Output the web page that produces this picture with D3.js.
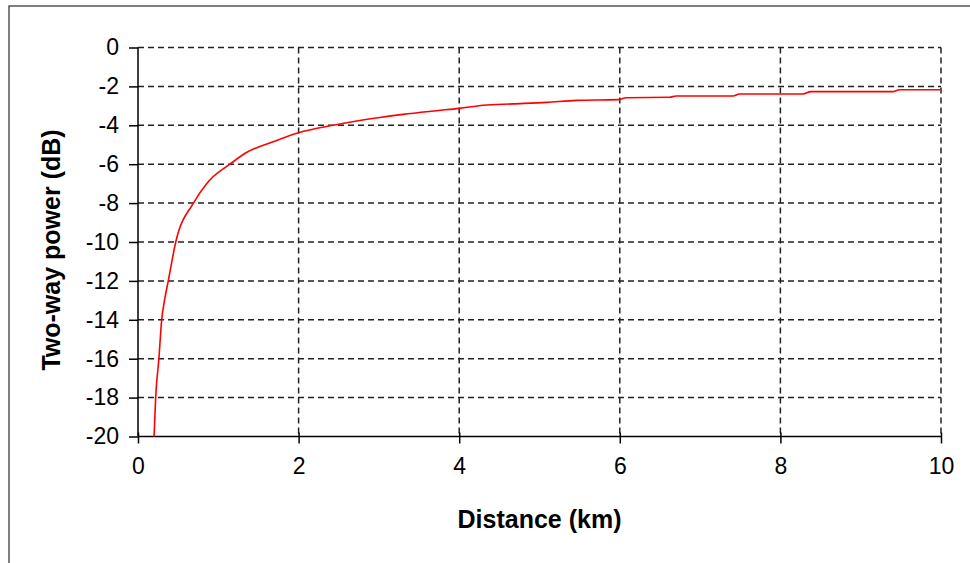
<!DOCTYPE html>
<html>
<head>
    <meta charset="utf-8" />
    <title>Two-way power vs distance</title>
    <style>
        body { margin: 0; background: #fff; }
        #power_chart { width: 970px; height: 563px; }
        text { font-family: "Liberation Sans", Arial, sans-serif; fill: #000; }
    </style>
</head>
<body>
    <div id="power_chart"></div>
    <script src="https://cdnjs.cloudflare.com/ajax/libs/d3/7.8.5/d3.min.js"></script>
    <script>
        // values
        var distanceKm = [0.2, 0.22, 0.26, 0.295, 0.33, 0.377, 0.47, 0.69, 0.855, 0.91, 1.145, 1.35, 1.68, 2.0, 2.43, 3.01, 3.3, 3.72, 4.0, 4.3, 4.67, 5.09, 5.46, 5.98, 6.08, 6.62, 6.7, 7.41, 7.49, 8.28, 8.38, 9.4, 9.48, 10];
        var powerDb = [-20, -18, -16, -14, -13, -12, -10, -8, -7, -6.75, -6, -5.4, -4.85, -4.38, -4.0, -3.6, -3.44, -3.25, -3.13, -2.97, -2.9, -2.82, -2.72, -2.68, -2.58, -2.56, -2.49, -2.49, -2.39, -2.39, -2.27, -2.27, -2.17, -2.17];
        var xTicks = [0, 2, 4, 6, 8, 10];
        var yTicks = [0, -2, -4, -6, -8, -10, -12, -14, -16, -18, -20];

        var width = 970, height = 563;
        var margin = { left: 138, right: 29, top: 47.5, bottom: 126.5 };

        var svg = d3.select("#power_chart")
            .append("svg")
            .attr("width", width)
            .attr("height", height);

        // outer frame (only left and top edges show)
        svg.append("path")
            .attr("d", "M9," + height + "V6H" + width)
            .attr("fill", "none")
            .attr("stroke", "#555")
            .attr("stroke-width", 1.5);

        var x = d3.scaleLinear()
            .domain([0, 10])
            .range([margin.left, width - margin.right]);
        var y = d3.scaleLinear()
            .domain([-20, 0])
            .range([height - margin.bottom, margin.top]);

        var g = svg.append("g");

        // dashed grid
        g.selectAll(".hgrid")
            .data(yTicks.filter(function (d) { return d > -20; }))
            .enter().append("line")
            .attr("x1", x(0)).attr("x2", x(10))
            .attr("y1", function (d) { return y(d); })
            .attr("y2", function (d) { return y(d); })
            .attr("stroke", "#222")
            .attr("stroke-width", 1.5)
            .attr("stroke-dasharray", "6,4");
        g.selectAll(".vgrid")
            .data(xTicks.filter(function (d) { return d > 0; }))
            .enter().append("line")
            .attr("y1", y(0)).attr("y2", y(-20))
            .attr("x1", function (d) { return x(d); })
            .attr("x2", function (d) { return x(d); })
            .attr("stroke", "#222")
            .attr("stroke-width", 1.5)
            .attr("stroke-dasharray", "6,4");

        // axes (plain hyphen minus like the original)
        var fmt = function (d) { return String(d); };
        var yAxis = d3.axisLeft(y).tickValues(yTicks).tickSize(9).tickPadding(10).tickFormat(fmt);
        var xAxis = d3.axisBottom(x).tickValues(xTicks).tickSize(7).tickPadding(14).tickFormat(fmt);

        var ya = g.append("g")
            .attr("transform", "translate(" + x(0) + ",0)")
            .call(yAxis);
        var xa = g.append("g")
            .attr("transform", "translate(0," + y(-20) + ")")
            .call(xAxis);

        [ya, xa].forEach(function (a) {
            a.select(".domain").attr("stroke", "#000").attr("stroke-width", 1.5);
            a.selectAll(".tick line").attr("stroke", "#000").attr("stroke-width", 1.5);
            a.selectAll("text")
                .style("font-size", "23px")
                .style("font-family", "'Liberation Sans', Arial, sans-serif")
                .attr("fill", "#000");
        });
        ya.select(".domain").attr("d", "M0," + y(0) + "V" + y(-20));
        xa.select(".domain").attr("d", "M" + x(0) + ",0H" + x(10));
        xa.selectAll(".tick line").attr("y1", -4);

        // power curve
        var line = d3.line()
            .curve(d3.curveMonotoneX)
            .x(function (d) { return x(d[0]); })
            .y(function (d) { return y(d[1]); });
        g.append("path")
            .datum(distanceKm.map(function (d, i) { return [d, powerDb[i]]; }))
            .attr("d", line)
            .attr("fill", "none")
            .attr("stroke", "#ff0000")
            .attr("stroke-width", 1.6);

        // axis titles
        svg.append("text")
            .attr("x", (x(0) + x(10)) / 2)
            .attr("y", 528)
            .attr("text-anchor", "middle")
            .style("font-size", "25px")
            .style("font-weight", "bold")
            .text("Distance (km)");
        svg.append("text")
            .attr("transform", "translate(60," + 250 + ") rotate(-90)")
            .attr("text-anchor", "middle")
            .style("font-size", "25px")
            .style("font-weight", "bold")
            .text("Two-way power (dB)");
    </script>
</body>
</html>
